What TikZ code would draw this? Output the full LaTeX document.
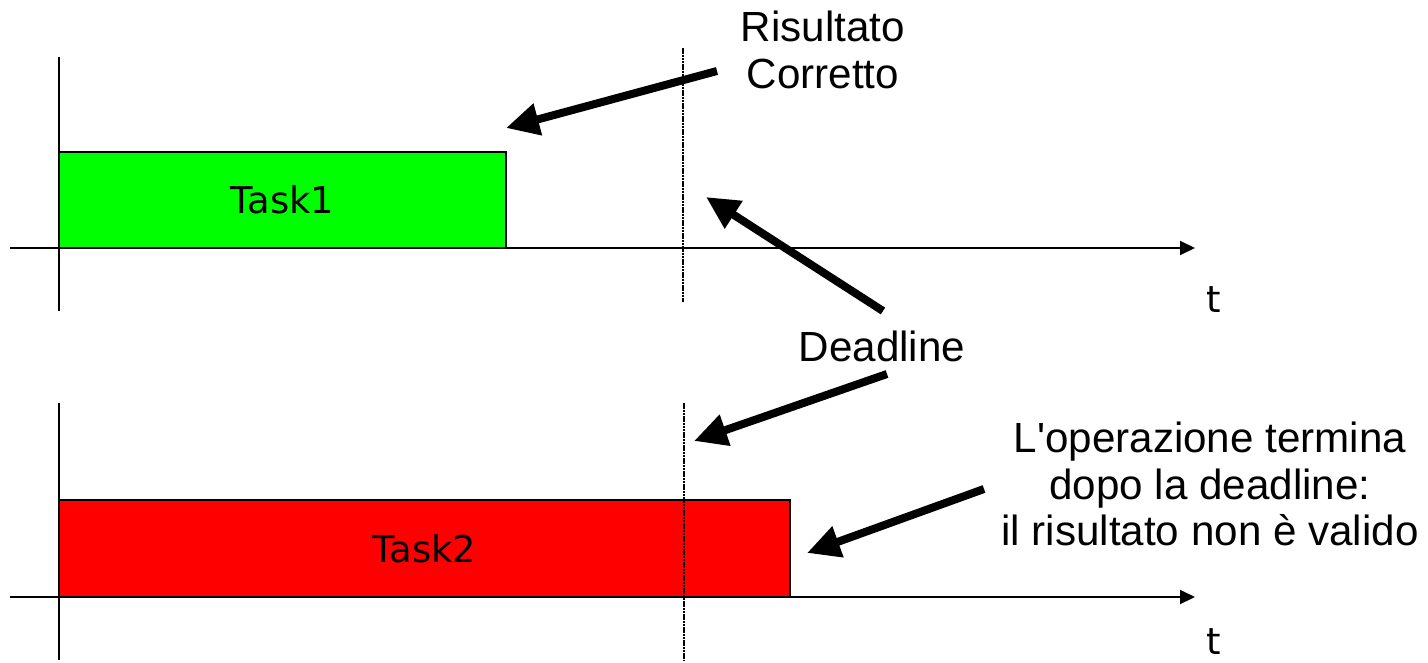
\documentclass[tikz,border=0pt]{standalone}
\usepackage{fontspec}
\setmainfont{Liberation Sans}[Ligatures=TeXOff]
\newfontfamily\verd{DejaVu Sans}
\usetikzlibrary{arrows.meta,calc}
\begin{document}
\begin{tikzpicture}[x=0.02cm,y=-0.02cm,
  axis/.style={line width=0.04cm,-{Triangle[length=0.3cm,width=0.28cm]}},
  vaxis/.style={line width=0.04cm},
  dl/.style={line width=0.035cm,dash pattern=on 0.05cm off 0.015cm},
  bigarrow/.style={line width=0.16cm,-{Triangle[length=0.66cm,width=0.62cm]}},
  lbl/.style={font=\fontsize{24}{26.5}\selectfont,align=center,inner sep=0},
  tasklbl/.style={font=\verd\fontsize{21}{25}\selectfont,inner sep=0},
  taskbox/.style={draw,line width=0.04cm}]
\useasboundingbox (0,0) rectangle (1428,663);
% ---------- top diagram ----------
\coordinate (t1sw) at (59,248);
\coordinate (t1ne) at (506,152);
\filldraw[taskbox,fill={rgb,255:red,0;green,255;blue,0}] (t1sw) rectangle (t1ne);
\node[tasklbl] (task1) at ($(t1sw)!0.5!(t1ne)$) {Task1};
\coordinate (ax1l) at (10,248);
\coordinate (ax1r) at (1195,248);
\draw[axis] (ax1l) -- (ax1r);
\coordinate (vx1t) at (59,57);
\coordinate (vx1b) at (59,311);
\draw[vaxis] (vx1t) -- (vx1b);
\coordinate (dl1t) at (683,48);
\coordinate (dl1b) at (683,302);
\draw[dl] (dl1t) -- (dl1b);
\node[tasklbl] (t1) at (1214,300) {t};
\node[lbl] (ris) at (823,50) {Risultato\\Corretto};
\coordinate (a1s) at (717,71);
\coordinate (a1e) at (506,128);
\draw[bigarrow] (a1s) -- (a1e);
\node[lbl] (dead) at (882,346) {Deadline};
\coordinate (a2s) at (883,311);
\coordinate (a2e) at (706,197);
\draw[bigarrow] (a2s) -- (a2e);
% ---------- bottom diagram ----------
\coordinate (t2sw) at (59,597);
\coordinate (t2ne) at (790,500);
\filldraw[taskbox,fill={rgb,255:red,255;green,0;blue,0}] (t2sw) rectangle (t2ne);
\node[tasklbl] (task2) at ($(t2sw)!0.5!(t2ne)$) {Task2};
\coordinate (ax2l) at (10,597);
\coordinate (ax2r) at (1195,597);
\draw[axis] (ax2l) -- (ax2r);
\coordinate (vx2t) at (59,403);
\coordinate (vx2b) at (59,660);
\draw[vaxis] (vx2t) -- (vx2b);
\coordinate (dl2t) at (684,403);
\coordinate (dl2b) at (684,660);
\draw[dl] (dl2t) -- (dl2b);
\node[tasklbl] (t2) at (1214,642) {t};
\coordinate (a3s) at (887,374);
\coordinate (a3e) at (694,441);
\draw[bigarrow] (a3s) -- (a3e);
\node[lbl] (err) at (1210,484) {L'operazione termina\\dopo la deadline:\\il risultato non è valido};
\coordinate (a4s) at (984,489);
\coordinate (a4e) at (807,553);
\draw[bigarrow] (a4s) -- (a4e);
\end{tikzpicture}
\end{document}
